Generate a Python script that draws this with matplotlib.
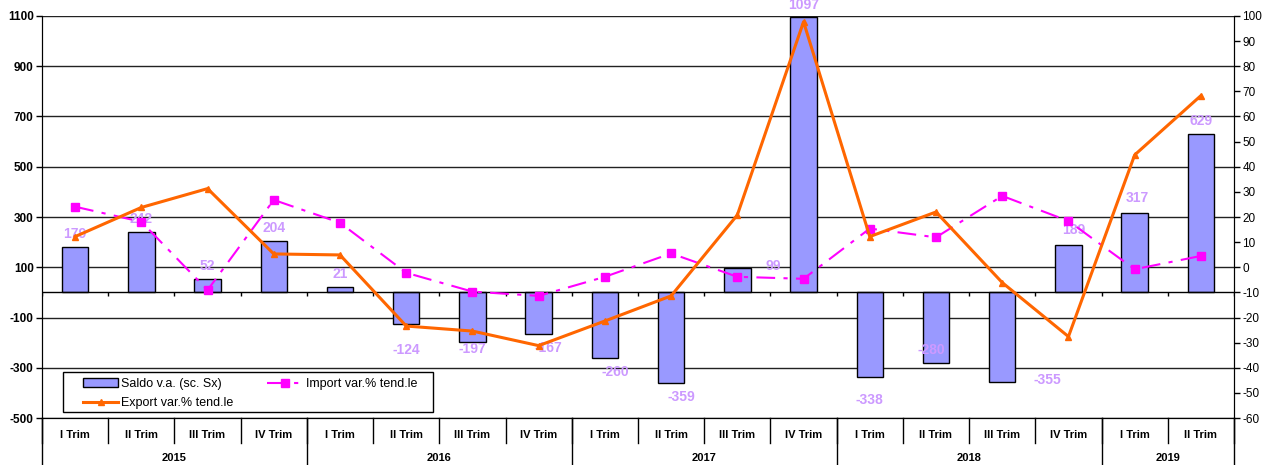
import matplotlib
matplotlib.use("Agg")
import matplotlib.pyplot as plt
from matplotlib.patches import Rectangle
import numpy as np

plt.rcParams['font.family'] = ['Liberation Sans', 'DejaVu Sans']

# data
quarters = ["I Trim", "II Trim", "III Trim", "IV Trim"] * 4 + ["I Trim", "II Trim"]
years = ["2015", "2016", "2017", "2018", "2019"]
quarters_per_year = [4, 4, 4, 4, 2]

saldo = [179, 242, 52, 204, 21, -124, -197, -167, -260, -359,
         99, 1097, -338, -280, -355, 189, 317, 629]
import_var = [24.1, 18.1, -9.1, 26.8, 17.7, -2.2, -9.7, -11.4, -3.8, 5.5,
              -3.8, -4.6, 15.4, 11.9, 28.4, 18.4, -0.8, 4.5]
export_var = [12.2, 23.8, 31.3, 5.3, 4.9, -23.4, -25.4, -31.2, -21.4, -11.4,
              20.8, 97.7, 12.2, 22.0, -6.1, -27.6, 44.7, 68.3]

left_ticks = [-500, -300, -100, 100, 300, 500, 700, 900, 1100]
right_ticks = list(range(-60, 101, 10))

# manual nudges of the data labels (pixels), like the hand placed ones in the original
label_nudge = {5: (0, -12), 6: (0, 7), 7: (10, 0), 8: (10, 0), 9: (10, 0),
               10: (36, -11), 11: (0, -1), 12: (0, -9), 13: (-5, 27), 14: (45, 16),
               15: (5, 2), 16: (3, 2)}

W, H = 1268, 465
fig = plt.figure(figsize=(W / 100, H / 100), dpi=100)
L, R, T, B = 42, 1234, 16, 418
ax = fig.add_axes([L / W, 1 - B / H, (R - L) / W, (B - T) / H])
ax2 = ax.twinx()

x = np.arange(len(saldo))
bars = ax.bar(x, saldo, width=0.4, color="#9999FF", edgecolor="black",
              linewidth=1, zorder=3, label="Saldo v.a. (sc. Sx)")

ax.set_xlim(-0.5, len(saldo) - 0.5)
ax.set_ylim(-500, 1100)
ax.set_yticks(left_ticks)
ax.set_yticklabels([str(t) for t in left_ticks], fontsize=8.5, fontweight="bold")
ax.tick_params(axis="y", length=4, width=1, pad=2)
ax.set_xticks([])
for t in left_ticks:
    ax.axhline(t, color="#222222", linewidth=1, zorder=1)
ax.axhline(0, color="black", linewidth=1, zorder=4)
ax.vlines(np.arange(len(saldo) + 1) - 0.5, -16, 0, color="black", linewidth=1, zorder=4)

ax.spines["top"].set_visible(False)
ax2.spines["top"].set_visible(False)

# data labels
for i, v in enumerate(saldo):
    dx, dy = label_nudge.get(i, (0, 0))
    base = 13 if v >= 0 else -14
    ax.annotate(str(v), (x[i], v), xytext=(dx, base + dy), textcoords="offset pixels",
                ha="center", va="center", fontsize=10, fontweight="bold",
                color="#CC99FF", zorder=5, annotation_clip=False)

# lines on secondary axis
ln_imp, = ax2.plot(x, import_var, color="#FF00FF", linewidth=1.5,
                   dashes=[9, 4, 2, 4], marker="s", markersize=6,
                   label="Import var.% tend.le")
ln_exp, = ax2.plot(x, export_var, color="#FF6600", linewidth=2.2,
                   marker="^", markersize=4, label="Export var.% tend.le")
ax2.set_ylim(-60, 100)
ax2.set_yticks(right_ticks)
ax2.set_yticklabels([str(t) for t in right_ticks], fontsize=8.5)
ax2.tick_params(axis="y", length=4, width=1, pad=2)

# category axis below the plot
trans = ax.get_xaxis_transform()
for i, q in enumerate(quarters):
    ax.text(i, -0.042, q, transform=trans, ha="center", va="center",
            fontsize=8, fontweight="bold")
for b in np.arange(len(saldo) + 1) - 0.5:
    ax.plot([b, b], [0, -0.062], transform=trans, color="black", linewidth=1, clip_on=False)
start = 0
for yr, n in zip(years, quarters_per_year):
    ax.text(start + n / 2 - 0.5, -0.1, yr, transform=trans, ha="center", va="center",
            fontsize=8, fontweight="bold")
    ax.plot([start - 0.5, start - 0.5], [0, -0.12], transform=trans, color="black",
            linewidth=1, clip_on=False)
    start += n
ax.plot([start - 0.5, start - 0.5], [0, -0.12], transform=trans, color="black",
        linewidth=1, clip_on=False)

# legend box
ax2.add_patch(Rectangle((0.0176, 0.0149), 0.3104, 0.0995, transform=ax2.transAxes,
                        facecolor="white", edgecolor="black", linewidth=1, zorder=4.5))
leg = ax2.legend([bars, ln_exp, ln_imp],
                 ["Saldo v.a. (sc. Sx)", "Export var.% tend.le", "Import var.% tend.le"],
                 ncol=2, loc="upper left", bbox_to_anchor=(0.0294, 0.1145),
                 fontsize=9, frameon=False, handlelength=2.8, borderpad=0,
                 labelspacing=0.55, columnspacing=2.7, handletextpad=0.25)
leg.set_zorder(5)

fig.savefig("out.png", dpi=100)
